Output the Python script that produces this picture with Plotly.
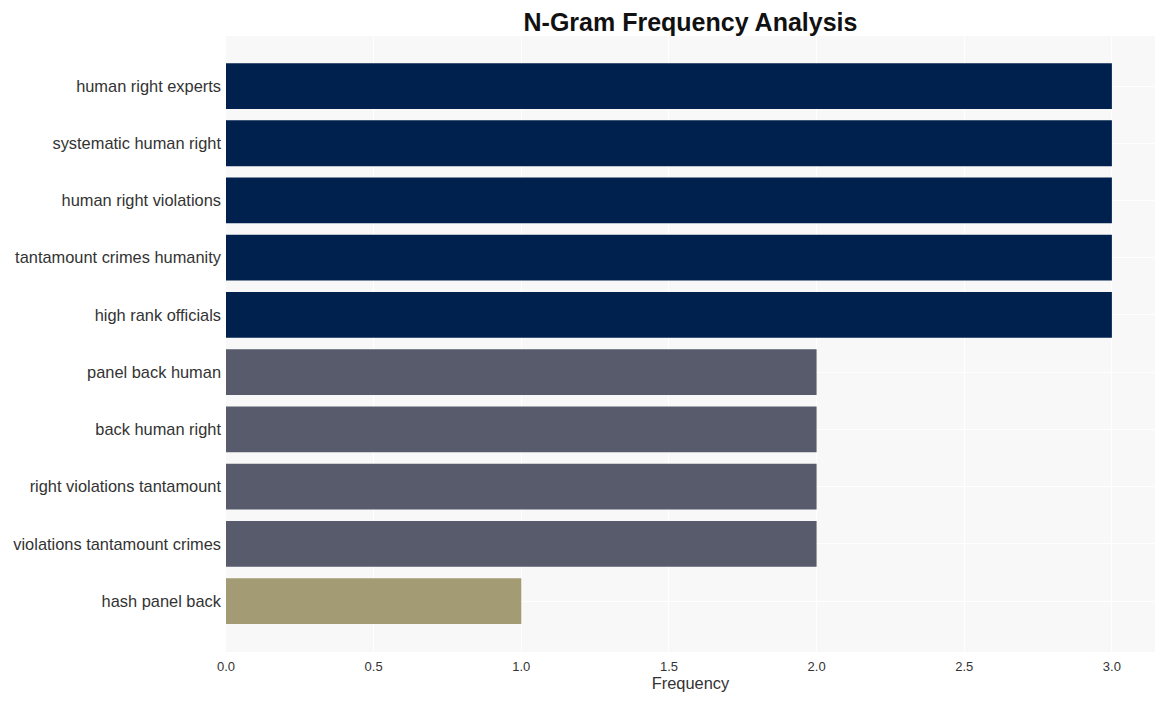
import plotly.graph_objects as go

labels = ["human right experts", "systematic human right", "human right violations",
          "tantamount crimes humanity", "high rank officials", "panel back human",
          "back human right", "right violations tantamount", "violations tantamount crimes",
          "hash panel back"]
values = [3, 3, 3, 3, 3, 2, 2, 2, 2, 1]
color_map = {3: "#00214e", 2: "#575b6c", 1: "#a39b73"}
colors = [color_map[v] for v in values]

fig = go.Figure(go.Bar(
    x=values, y=labels, orientation="h",
    marker=dict(color=colors, line=dict(width=0)),
    width=0.8,
))
fig.update_layout(
    width=1149, height=685,
    margin=dict(l=218, r=2, t=28, b=41),
    paper_bgcolor="white", plot_bgcolor="#f8f8f8",
    font=dict(family="Liberation Sans, Arial, sans-serif", color="#333333"),
    title=dict(text="<b>N-Gram Frequency Analysis</b>", x=0.5, xref="paper",
               y=1 - 14 / 685, yref="container", xanchor="center", yanchor="middle",
               font=dict(size=25, color="#111111")),
    xaxis=dict(range=[0, 3.146], dtick=0.5, tickformat=".1f", showgrid=True,
               gridcolor="white", gridwidth=1, zeroline=False, automargin=False,
               ticks="outside", ticklen=2, tickcolor="rgba(0,0,0,0)",
               tickfont=dict(size=13), title=dict(text="Frequency", font=dict(size=16.4), standoff=4)),
    yaxis=dict(range=[9.89, -0.874], showgrid=True, gridcolor="white", gridwidth=1,
               automargin=False, ticklabelstandoff=4,
               tickfont=dict(size=16.4), ticks="", ticklen=0),
    showlegend=False,
)
fig.write_html("out.html")
